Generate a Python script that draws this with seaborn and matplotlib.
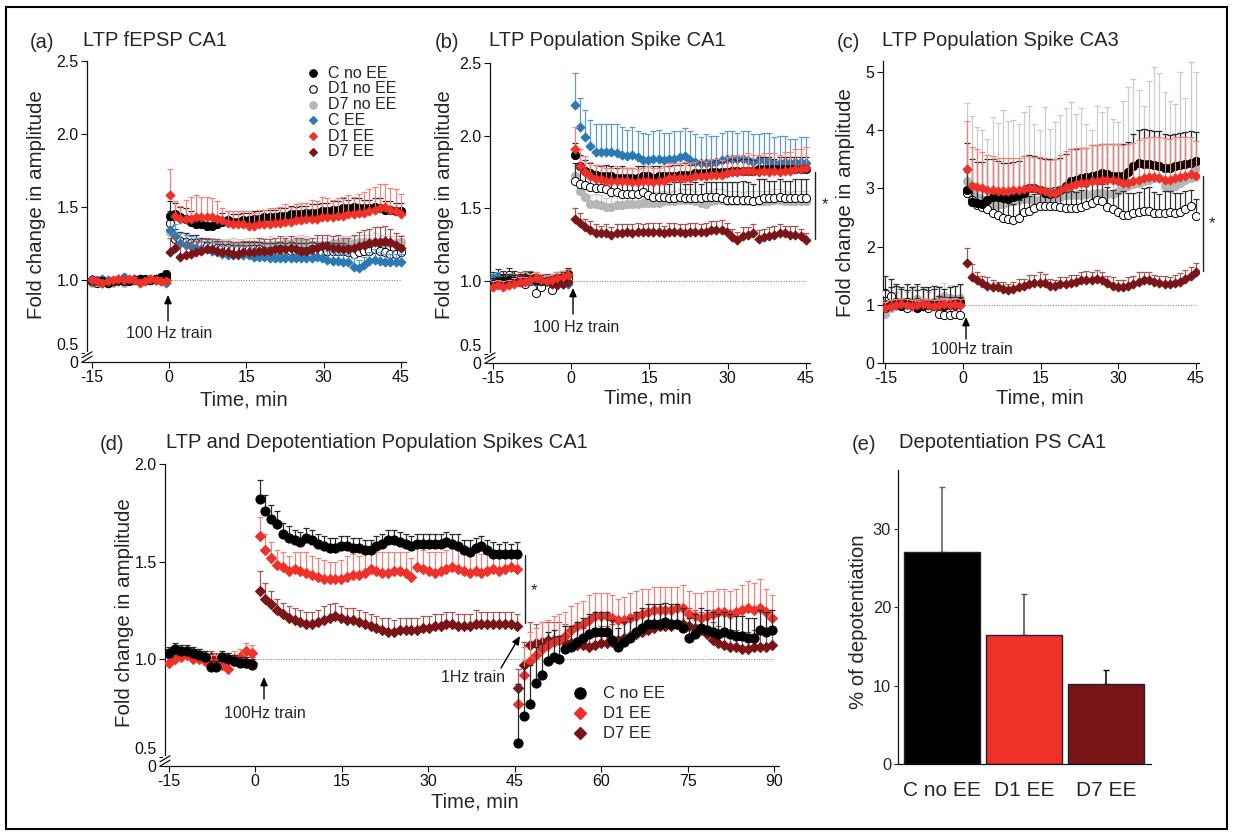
import numpy as np
import pandas as pd
import matplotlib
matplotlib.use("Agg")
import matplotlib.pyplot as plt
import seaborn as sns
from matplotlib.lines import Line2D
from matplotlib.patches import Rectangle

W, H = 1233, 835

# ---------------- data ----------------
GROUPS = ["C no EE", "D1 no EE", "D7 no EE", "C EE", "D1 EE", "D7 EE"]

# (a) LTP fEPSP CA1 : baseline (-15..0 min) and post-tetanus (0..45 min)
A_C_NOEE_PRE = [1.00, 0.99, 0.99, 0.98, 0.99, 1.00, 1.00, 0.99, 1.00, 1.01, 1.01, 1.00, 1.01, 1.02, 1.04]
A_D1_NOEE_PRE = [0.99, 0.98, 0.99, 0.98, 0.99, 1.00, 0.99, 1.00, 1.00, 0.99, 1.00, 1.00, 1.01, 1.00, 1.02]
A_D7_NOEE_PRE = [0.98, 0.98, 0.99, 0.99, 0.98, 0.99, 0.98, 0.99, 1.00, 1.00, 0.99, 1.01, 1.00, 1.01, 1.03]
A_C_EE_PRE = [1.01, 1.00, 1.01, 1.00, 0.99, 1.01, 1.02, 1.00, 1.00, 0.99, 1.00, 1.01, 1.00, 0.99, 0.98]
A_D1_EE_PRE = [1.00, 0.99, 0.98, 0.99, 1.00, 1.01, 1.00, 1.01, 1.00, 0.98, 0.99, 1.01, 1.00, 0.99, 0.99]
A_D7_EE_PRE = [0.99, 0.99, 0.98, 0.98, 0.99, 0.99, 1.00, 1.00, 1.01, 1.01, 1.00, 1.00, 1.01, 1.00, 1.00]
A_PRE_ERR = [0.02, 0.02, 0.02, 0.02, 0.02, 0.02]

A_C_NOEE = [1.44, 1.45, 1.43, 1.42, 1.40, 1.38, 1.38, 1.37, 1.37, 1.38,
            1.40, 1.41, 1.40, 1.40, 1.41, 1.41, 1.42, 1.42, 1.43, 1.43,
            1.43, 1.44, 1.44, 1.45, 1.45, 1.45, 1.46, 1.46, 1.46, 1.47,
            1.47, 1.48, 1.48, 1.49, 1.49, 1.50, 1.49, 1.49, 1.49, 1.50,
            1.49, 1.48, 1.48, 1.47, 1.47]
A_C_NOEE_ERR = [0.10, 0.08, 0.07, 0.07, 0.07, 0.06, 0.06, 0.06, 0.06, 0.06,
                0.06, 0.06, 0.05, 0.05, 0.05, 0.05, 0.05, 0.05, 0.05, 0.05,
                0.05, 0.05, 0.05, 0.06, 0.05, 0.06, 0.05, 0.06, 0.06, 0.06,
                0.06, 0.06, 0.06, 0.07, 0.06, 0.06, 0.07, 0.06, 0.06, 0.06,
                0.07, 0.06, 0.06, 0.06, 0.06]
A_D1_NOEE = [1.39, 1.28, 1.27, 1.26, 1.25, 1.25, 1.24, 1.23, 1.23, 1.22,
             1.22, 1.22, 1.21, 1.21, 1.21, 1.21, 1.21, 1.21, 1.20, 1.20,
             1.20, 1.21, 1.20, 1.20, 1.20, 1.20, 1.20, 1.21, 1.20, 1.19,
             1.20, 1.20, 1.20, 1.20, 1.19, 1.18, 1.19, 1.20, 1.20, 1.21,
             1.20, 1.19, 1.18, 1.18, 1.19]
A_D1_NOEE_ERR = [0.08, 0.07, 0.06, 0.06, 0.06, 0.06, 0.05, 0.05, 0.05, 0.05,
                 0.05, 0.05, 0.05, 0.05, 0.05, 0.05, 0.05, 0.05, 0.05, 0.05,
                 0.05, 0.05, 0.05, 0.06, 0.05, 0.05, 0.05, 0.05, 0.05, 0.05,
                 0.06, 0.05, 0.05, 0.05, 0.05, 0.05, 0.05, 0.05, 0.06, 0.05,
                 0.05, 0.05, 0.06, 0.05, 0.05]
A_D7_NOEE = [1.33, 1.28, 1.27, 1.26, 1.25, 1.24, 1.24, 1.24, 1.24, 1.23,
             1.23, 1.23, 1.23, 1.23, 1.23, 1.24, 1.24, 1.24, 1.24, 1.24,
             1.24, 1.24, 1.25, 1.25, 1.25, 1.25, 1.25, 1.24, 1.24, 1.24,
             1.24, 1.25, 1.25, 1.25, 1.25, 1.25, 1.26, 1.26, 1.26, 1.26,
             1.26, 1.25, 1.25, 1.25, 1.26]
A_D7_NOEE_ERR = [0.08, 0.07, 0.06, 0.06, 0.06, 0.05, 0.05, 0.05, 0.05, 0.05,
                 0.05, 0.05, 0.06, 0.05, 0.05, 0.05, 0.05, 0.05, 0.05, 0.06,
                 0.05, 0.05, 0.05, 0.05, 0.05, 0.06, 0.05, 0.05, 0.05, 0.05,
                 0.05, 0.05, 0.06, 0.05, 0.05, 0.05, 0.05, 0.05, 0.05, 0.06,
                 0.05, 0.05, 0.05, 0.05, 0.05]
A_C_EE = [1.34, 1.30, 1.25, 1.24, 1.23, 1.22, 1.21, 1.21, 1.20, 1.19,
          1.18, 1.17, 1.17, 1.17, 1.17, 1.17, 1.16, 1.16, 1.16, 1.15,
          1.15, 1.15, 1.15, 1.15, 1.15, 1.15, 1.15, 1.15, 1.16, 1.15,
          1.14, 1.13, 1.13, 1.12, 1.12, 1.09, 1.08, 1.10, 1.13, 1.14,
          1.13, 1.12, 1.12, 1.12, 1.12]
A_C_EE_ERR = [0.10, 0.08, 0.07, 0.07, 0.07, 0.07, 0.06, 0.06, 0.06, 0.06,
              0.05, 0.06, 0.06, 0.06, 0.06, 0.06, 0.06, 0.06, 0.06, 0.06,
              0.06, 0.06, 0.06, 0.06, 0.06, 0.06, 0.06, 0.06, 0.06, 0.06,
              0.06, 0.06, 0.06, 0.06, 0.06, 0.06, 0.06, 0.06, 0.06, 0.07,
              0.06, 0.06, 0.06, 0.06, 0.06]
A_D1_EE = [1.58, 1.44, 1.42, 1.42, 1.42, 1.43, 1.43, 1.43, 1.43, 1.42,
           1.41, 1.39, 1.38, 1.38, 1.38, 1.37, 1.37, 1.38, 1.38, 1.38,
           1.39, 1.39, 1.40, 1.40, 1.41, 1.41, 1.42, 1.42, 1.42, 1.43,
           1.43, 1.43, 1.44, 1.44, 1.45, 1.45, 1.46, 1.46, 1.47, 1.48,
           1.49, 1.50, 1.48, 1.47, 1.45]
A_D1_EE_ERR = [0.18, 0.10, 0.09, 0.13, 0.15, 0.15, 0.14, 0.14, 0.13, 0.12,
               0.08, 0.08, 0.09, 0.09, 0.09, 0.10, 0.09, 0.10, 0.10, 0.11,
               0.10, 0.11, 0.12, 0.10, 0.11, 0.12, 0.11, 0.13, 0.12, 0.14,
               0.13, 0.12, 0.12, 0.13, 0.13, 0.12, 0.13, 0.14, 0.15, 0.16,
               0.17, 0.16, 0.15, 0.15, 0.14]
A_D7_EE = [1.19, 1.22, 1.16, 1.17, 1.18, 1.19, 1.20, 1.21, 1.21, 1.20,
           1.19, 1.19, 1.18, 1.18, 1.19, 1.19, 1.19, 1.20, 1.20, 1.20,
           1.21, 1.21, 1.21, 1.22, 1.21, 1.20, 1.20, 1.21, 1.22, 1.23,
           1.23, 1.22, 1.22, 1.21, 1.21, 1.22, 1.23, 1.24, 1.25, 1.26,
           1.26, 1.27, 1.26, 1.24, 1.22]
A_D7_EE_ERR = [0.10, 0.09, 0.08, 0.08, 0.08, 0.08, 0.08, 0.08, 0.07, 0.08,
               0.08, 0.08, 0.08, 0.08, 0.08, 0.08, 0.08, 0.09, 0.08, 0.08,
               0.08, 0.09, 0.08, 0.08, 0.08, 0.09, 0.08, 0.08, 0.09, 0.08,
               0.08, 0.08, 0.09, 0.08, 0.08, 0.09, 0.10, 0.10, 0.10, 0.10,
               0.10, 0.10, 0.09, 0.08, 0.08]

# (b) LTP Population Spike CA1
B_C_NOEE_PRE = [0.98, 0.99, 1.00, 1.01, 1.00, 0.99, 1.01, 1.02, 1.01, 1.00, 1.00, 1.01, 1.02, 1.03, 1.05]
B_D1_NOEE_PRE = [1.01, 1.03, 1.02, 1.04, 1.02, 1.00, 0.98, 1.00, 0.92, 0.96, 1.00, 0.94, 0.99, 1.01, 1.02]
B_D7_NOEE_PRE = [0.99, 1.00, 0.99, 1.00, 1.01, 0.99, 0.99, 1.00, 1.00, 0.98, 0.99, 1.00, 1.01, 1.02, 1.03]
B_C_EE_PRE = [1.02, 1.03, 1.01, 1.02, 1.00, 1.01, 1.01, 1.00, 0.99, 1.00, 1.01, 1.00, 0.99, 0.98, 0.98]
B_D1_EE_PRE = [0.96, 0.97, 0.96, 0.97, 0.98, 0.99, 0.99, 1.01, 1.02, 1.01, 1.00, 1.01, 1.02, 1.03, 1.04]
B_D7_EE_PRE = [0.98, 0.99, 0.99, 1.00, 1.01, 1.02, 1.03, 1.03, 1.02, 1.01, 1.00, 0.98, 0.97, 0.98, 0.99]
B_PRE_ERR = [0.04, 0.05, 0.03, 0.03, 0.04, 0.04]

B_C_NOEE = [1.87, 1.79, 1.76, 1.74, 1.73, 1.72, 1.72, 1.72, 1.71, 1.71,
            1.71, 1.71, 1.71, 1.72, 1.72, 1.71, 1.72, 1.72, 1.72, 1.72,
            1.73, 1.73, 1.73, 1.74, 1.74, 1.74, 1.75, 1.75, 1.75, 1.75,
            1.76, 1.76, 1.76, 1.76, 1.76, 1.77, 1.77, 1.77, 1.77, 1.77,
            1.77, 1.77, 1.77, 1.77, 1.77]
B_C_NOEE_ERR = [0.08, 0.08, 0.07, 0.07, 0.07, 0.07, 0.08, 0.07, 0.07, 0.08,
                0.07, 0.07, 0.08, 0.07, 0.07, 0.08, 0.07, 0.07, 0.07, 0.08,
                0.07, 0.08, 0.07, 0.07, 0.08, 0.07, 0.07, 0.08, 0.07, 0.08,
                0.08, 0.07, 0.08, 0.08, 0.07, 0.08, 0.08, 0.08, 0.07, 0.08,
                0.08, 0.08, 0.08, 0.08, 0.08]
B_D1_NOEE = [1.69, 1.67, 1.66, 1.65, 1.64, 1.64, 1.63, 1.61, 1.61, 1.60,
             1.60, 1.60, 1.60, 1.61, 1.59, 1.58, 1.58, 1.58, 1.57, 1.57,
             1.58, 1.57, 1.57, 1.57, 1.57, 1.58, 1.58, 1.58, 1.57, 1.56,
             1.56, 1.56, 1.56, 1.56, 1.55, 1.56, 1.57, 1.57, 1.57, 1.58,
             1.57, 1.57, 1.57, 1.57, 1.57]
B_D1_NOEE_ERR = [0.12, 0.11, 0.10, 0.10, 0.10, 0.10, 0.10, 0.10, 0.10, 0.10,
                 0.10, 0.10, 0.10, 0.09, 0.10, 0.11, 0.10, 0.10, 0.10, 0.11,
                 0.10, 0.10, 0.10, 0.11, 0.10, 0.10, 0.10, 0.10, 0.11, 0.12,
                 0.12, 0.12, 0.13, 0.12, 0.12, 0.14, 0.13, 0.12, 0.12, 0.12,
                 0.12, 0.12, 0.13, 0.13, 0.13]
B_D7_NOEE = [1.72, 1.62, 1.58, 1.53, 1.53, 1.52, 1.51, 1.51, 1.52, 1.52,
             1.53, 1.53, 1.53, 1.54, 1.54, 1.54, 1.54, 1.55, 1.55, 1.55,
             1.56, 1.56, 1.56, 1.55, 1.54, 1.53, 1.55, 1.56, 1.56, 1.55,
             1.55, 1.55, 1.55, 1.55, 1.55, 1.55, 1.55, 1.55, 1.56, 1.56,
             1.55, 1.55, 1.55, 1.55, 1.55]
B_D7_NOEE_ERR = [0.07, 0.07, 0.06, 0.06, 0.07, 0.07, 0.06, 0.07, 0.07, 0.06,
                 0.07, 0.07, 0.07, 0.06, 0.07, 0.07, 0.07, 0.07, 0.06, 0.07,
                 0.07, 0.07, 0.07, 0.07, 0.06, 0.07, 0.07, 0.07, 0.07, 0.07,
                 0.07, 0.07, 0.06, 0.07, 0.07, 0.07, 0.07, 0.07, 0.07, 0.07,
                 0.07, 0.06, 0.07, 0.07, 0.07]
B_C_EE = [2.21, 2.06, 1.99, 1.93, 1.89, 1.89, 1.89, 1.89, 1.88, 1.87,
          1.86, 1.87, 1.85, 1.83, 1.83, 1.84, 1.84, 1.83, 1.84, 1.84,
          1.85, 1.86, 1.83, 1.82, 1.81, 1.81, 1.81, 1.82, 1.83, 1.84,
          1.84, 1.84, 1.84, 1.83, 1.82, 1.83, 1.83, 1.82, 1.81, 1.81,
          1.82, 1.81, 1.82, 1.82, 1.81]
B_C_EE_ERR = [0.22, 0.20, 0.19, 0.18, 0.19, 0.19, 0.19, 0.19, 0.20, 0.19,
              0.18, 0.19, 0.18, 0.19, 0.18, 0.19, 0.20, 0.19, 0.18, 0.19,
              0.18, 0.19, 0.20, 0.19, 0.18, 0.20, 0.19, 0.18, 0.19, 0.19,
              0.19, 0.18, 0.19, 0.20, 0.19, 0.18, 0.19, 0.20, 0.18, 0.19,
              0.18, 0.17, 0.16, 0.17, 0.18]
B_D1_EE = [1.91, 1.79, 1.75, 1.72, 1.70, 1.70, 1.69, 1.69, 1.69, 1.69,
           1.69, 1.68, 1.68, 1.69, 1.69, 1.68, 1.69, 1.69, 1.71, 1.71,
           1.71, 1.71, 1.71, 1.72, 1.72, 1.72, 1.73, 1.73, 1.73, 1.74,
           1.75, 1.75, 1.76, 1.76, 1.76, 1.75, 1.76, 1.75, 1.76, 1.75,
           1.76, 1.76, 1.77, 1.77, 1.78]
B_D1_EE_ERR = [0.15, 0.12, 0.11, 0.10, 0.10, 0.10, 0.09, 0.09, 0.10, 0.09,
               0.09, 0.10, 0.09, 0.09, 0.10, 0.10, 0.09, 0.10, 0.10, 0.10,
               0.10, 0.11, 0.10, 0.10, 0.11, 0.10, 0.11, 0.11, 0.10, 0.11,
               0.11, 0.12, 0.11, 0.12, 0.11, 0.12, 0.12, 0.13, 0.12, 0.12,
               0.13, 0.13, 0.14, 0.14, 0.14]
B_D7_EE = [1.43, 1.40, 1.37, 1.35, 1.33, 1.33, 1.33, 1.32, 1.33, 1.33,
           1.34, 1.33, 1.34, 1.34, 1.34, 1.34, 1.34, 1.33, 1.34, 1.34,
           1.34, 1.33, 1.34, 1.34, 1.34, 1.34, 1.35, 1.35, 1.35, 1.34,
           1.30, 1.28, 1.31, 1.32, 1.33, 1.29, 1.30, 1.31, 1.32, 1.33,
           1.33, 1.32, 1.32, 1.31, 1.28]
B_D7_EE_ERR = [0.07, 0.07, 0.06, 0.06, 0.06, 0.05, 0.06, 0.05, 0.06, 0.06,
               0.05, 0.06, 0.06, 0.05, 0.06, 0.06, 0.06, 0.05, 0.06, 0.06,
               0.05, 0.06, 0.06, 0.06, 0.05, 0.06, 0.06, 0.06, 0.07, 0.06,
               0.06, 0.06, 0.06, 0.05, 0.06, 0.06, 0.06, 0.06, 0.06, 0.06,
               0.05, 0.06, 0.06, 0.05, 0.05]

# (c) LTP Population Spike CA3 (no C EE group)
C_C_NOEE_PRE = [0.95, 1.00, 1.02, 0.98, 1.05, 1.00, 0.95, 0.98, 1.00, 1.02, 1.00, 0.98, 1.00, 1.02, 1.05]
C_D1_NOEE_PRE = [1.20, 1.15, 1.05, 1.00, 0.95, 1.00, 1.05, 1.00, 0.95, 0.98, 0.85, 0.83, 0.83, 0.84, 0.83]
C_D7_NOEE_PRE = [0.85, 0.95, 1.00, 1.05, 1.00, 1.05, 1.10, 1.05, 1.00, 1.05, 1.10, 1.15, 1.12, 1.10, 1.12]
C_D1_EE_PRE = [0.95, 0.98, 1.00, 1.02, 1.00, 0.98, 1.00, 1.02, 1.00, 0.98, 1.00, 1.02, 1.00, 1.02, 1.00]
C_D7_EE_PRE = [1.00, 0.98, 1.00, 1.02, 1.03, 1.00, 1.00, 0.98, 1.00, 1.02, 1.00, 0.98, 1.00, 0.98, 1.00]
C_PRE_ERR = [0.30, 0.30, 0.22, 0.0, 0.10, 0.08]

C_C_NOEE = [2.98, 2.76, 2.75, 2.74, 2.80, 2.85, 2.86, 2.84, 2.82, 2.85,
            2.88, 2.93, 3.00, 3.01, 2.98, 2.92, 2.90, 2.92, 2.98, 3.05,
            3.12, 3.15, 3.18, 3.20, 3.22, 3.23, 3.26, 3.25, 3.22, 3.22,
            3.21, 3.28, 3.38, 3.43, 3.42, 3.42, 3.40, 3.38, 3.35, 3.35,
            3.38, 3.40, 3.42, 3.44, 3.47]
C_C_NOEE_ERR = [0.80, 0.75, 0.70, 0.72, 0.70, 0.65, 0.62, 0.60, 0.62, 0.60,
                0.60, 0.62, 0.58, 0.55, 0.55, 0.58, 0.60, 0.58, 0.55, 0.55,
                0.55, 0.52, 0.52, 0.50, 0.52, 0.52, 0.50, 0.52, 0.55, 0.55,
                0.55, 0.52, 0.55, 0.58, 0.60, 0.58, 0.58, 0.60, 0.58, 0.57,
                0.56, 0.55, 0.55, 0.54, 0.50]
C_D1_NOEE = [2.93, 2.80, 2.72, 2.68, 2.65, 2.58, 2.55, 2.50, 2.47, 2.45,
             2.50, 2.60, 2.62, 2.66, 2.70, 2.70, 2.70, 2.70, 2.68, 2.66,
             2.66, 2.66, 2.68, 2.72, 2.75, 2.80, 2.78, 2.68, 2.64, 2.60,
             2.55, 2.55, 2.57, 2.60, 2.62, 2.62, 2.58, 2.57, 2.58, 2.60,
             2.58, 2.60, 2.65, 2.70, 2.52]
C_D1_NOEE_ERR = [0.35, 0.30, 0.28, 0.30, 0.32, 0.35, 0.32, 0.35, 0.30, 0.28,
                 0.30, 0.32, 0.25, 0.25, 0.28, 0.30, 0.30, 0.32, 0.30, 0.28,
                 0.30, 0.28, 0.30, 0.32, 0.34, 0.32, 0.30, 0.35, 0.33, 0.32,
                 0.40, 0.38, 0.35, 0.34, 0.38, 0.40, 0.36, 0.34, 0.38, 0.36,
                 0.35, 0.32, 0.30, 0.28, 0.30]
C_D7_NOEE = [3.12, 2.95, 2.85, 2.80, 2.75, 2.72, 2.72, 2.74, 2.76, 2.78,
             2.80, 2.82, 2.82, 2.80, 2.80, 2.80, 2.82, 2.84, 2.86, 2.88,
             2.88, 2.88, 2.88, 2.90, 2.90, 2.92, 2.92, 2.90, 2.90, 2.95,
             3.00, 3.05, 3.08, 3.10, 3.12, 3.15, 3.18, 3.18, 3.05, 3.00,
             3.05, 3.10, 3.15, 3.18, 3.35]
C_D7_NOEE_ERR = [1.35, 1.30, 1.20, 1.20, 1.10, 1.50, 1.40, 1.60, 1.40, 1.40,
                 1.30, 1.50, 1.60, 1.30, 1.20, 1.60, 1.20, 1.30, 1.40, 1.50,
                 1.60, 1.40, 1.50, 1.20, 1.10, 1.50, 1.40, 1.50, 1.30, 1.20,
                 1.50, 1.70, 1.80, 1.60, 1.30, 1.70, 1.90, 1.80, 1.60, 1.50,
                 1.40, 1.90, 1.40, 2.00, 1.65]
C_D1_EE = [3.33, 3.05, 3.02, 3.00, 2.98, 2.97, 2.96, 2.95, 2.96, 2.97,
           2.98, 2.99, 3.00, 3.00, 2.98, 2.95, 2.92, 2.93, 2.98, 3.02,
           3.05, 3.08, 3.10, 3.10, 3.12, 3.12, 3.14, 3.15, 3.14, 3.12,
           3.10, 3.10, 3.12, 3.15, 3.18, 3.20, 3.20, 3.18, 3.15, 3.15,
           3.18, 3.20, 3.22, 3.24, 3.22]
C_D1_EE_ERR = [0.83, 0.66, 0.65, 0.62, 0.60, 0.58, 0.57, 0.58, 0.56, 0.56,
               0.55, 0.56, 0.55, 0.54, 0.56, 0.58, 0.57, 0.58, 0.60, 0.62,
               0.62, 0.62, 0.60, 0.60, 0.62, 0.62, 0.62, 0.62, 0.62, 0.64,
               0.65, 0.66, 0.66, 0.68, 0.68, 0.68, 0.68, 0.70, 0.72, 0.70,
               0.70, 0.68, 0.66, 0.64, 0.60]
C_D7_EE = [1.72, 1.48, 1.42, 1.38, 1.33, 1.30, 1.30, 1.28, 1.25, 1.27,
           1.30, 1.33, 1.35, 1.37, 1.38, 1.37, 1.33, 1.33, 1.35, 1.35,
           1.38, 1.40, 1.42, 1.43, 1.43, 1.45, 1.42, 1.38, 1.33, 1.30,
           1.30, 1.33, 1.36, 1.40, 1.42, 1.42, 1.40, 1.37, 1.35, 1.35,
           1.37, 1.40, 1.45, 1.50, 1.57]
C_D7_EE_ERR = [0.25, 0.22, 0.15, 0.12, 0.14, 0.12, 0.10, 0.12, 0.11, 0.12,
               0.14, 0.12, 0.16, 0.14, 0.18, 0.16, 0.12, 0.10, 0.12, 0.13,
               0.14, 0.12, 0.14, 0.15, 0.14, 0.15, 0.14, 0.12, 0.14, 0.12,
               0.12, 0.15, 0.14, 0.16, 0.15, 0.14, 0.12, 0.13, 0.14, 0.12,
               0.14, 0.15, 0.14, 0.15, 0.15]

# (d) LTP and depotentiation: baseline, after 100 Hz (0-45), after 1 Hz (45-90)
D_GROUPS = ["C no EE", "D1 EE", "D7 EE"]
D_C_NOEE_PRE = [1.03, 1.05, 1.04, 1.04, 1.03, 1.02, 1.01, 0.96, 0.96, 1.01, 1.00, 0.99, 0.98, 0.98, 0.97]
D_D1_EE_PRE = [0.98, 1.00, 1.01, 1.02, 1.00, 1.00, 0.99, 0.98, 0.98, 0.97, 0.95, 1.00, 1.01, 1.04, 1.03]
D_D7_EE_PRE = [1.02, 1.03, 1.02, 1.03, 1.02, 1.02, 1.01, 1.01, 1.00, 1.00, 1.00, 0.99, 0.99, 0.98, 0.98]
D_PRE_ERR = [0.03, 0.04, 0.03]

D_C_NOEE_LTP = [1.82, 1.76, 1.72, 1.69, 1.64, 1.62, 1.61, 1.60, 1.62, 1.61,
                1.59, 1.58, 1.57, 1.57, 1.58, 1.58, 1.57, 1.57, 1.56, 1.56,
                1.58, 1.59, 1.61, 1.61, 1.60, 1.59, 1.58, 1.59, 1.59, 1.59,
                1.59, 1.59, 1.60, 1.59, 1.58, 1.56, 1.55, 1.57, 1.58, 1.56,
                1.54, 1.54, 1.54, 1.54, 1.54]
D_C_NOEE_LTP_ERR = [0.10, 0.08, 0.07, 0.07, 0.06, 0.06, 0.05, 0.05, 0.05, 0.05,
                    0.05, 0.05, 0.05, 0.05, 0.05, 0.05, 0.05, 0.05, 0.05, 0.05,
                    0.05, 0.05, 0.05, 0.05, 0.05, 0.05, 0.05, 0.05, 0.05, 0.05,
                    0.05, 0.05, 0.05, 0.05, 0.06, 0.05, 0.06, 0.05, 0.05, 0.05,
                    0.06, 0.05, 0.06, 0.05, 0.06]
D_D1_EE_LTP = [1.63, 1.56, 1.52, 1.48, 1.47, 1.45, 1.46, 1.45, 1.44, 1.43,
               1.42, 1.41, 1.41, 1.41, 1.41, 1.42, 1.43, 1.43, 1.44, 1.46,
               1.45, 1.44, 1.44, 1.45, 1.45, 1.44, 1.42, 1.47, 1.46, 1.45,
               1.44, 1.45, 1.46, 1.47, 1.46, 1.45, 1.44, 1.45, 1.44, 1.45,
               1.46, 1.45, 1.46, 1.47, 1.46]
D_D1_EE_LTP_ERR = [0.10, 0.08, 0.08, 0.08, 0.08, 0.08, 0.09, 0.10, 0.11, 0.10,
                   0.10, 0.10, 0.09, 0.09, 0.10, 0.11, 0.11, 0.10, 0.10, 0.10,
                   0.10, 0.11, 0.11, 0.10, 0.10, 0.11, 0.10, 0.12, 0.10, 0.10,
                   0.11, 0.10, 0.10, 0.10, 0.11, 0.10, 0.11, 0.11, 0.10, 0.10,
                   0.10, 0.10, 0.09, 0.09, 0.10]
D_D7_EE_LTP = [1.35, 1.31, 1.28, 1.25, 1.23, 1.21, 1.20, 1.19, 1.18, 1.18,
               1.19, 1.20, 1.21, 1.22, 1.21, 1.20, 1.20, 1.19, 1.18, 1.17,
               1.16, 1.15, 1.14, 1.14, 1.15, 1.15, 1.15, 1.15, 1.16, 1.16,
               1.17, 1.17, 1.18, 1.18, 1.17, 1.17, 1.17, 1.18, 1.18, 1.18,
               1.18, 1.18, 1.18, 1.18, 1.17]
D_D7_EE_LTP_ERR = [0.10, 0.08, 0.07, 0.06, 0.06, 0.06, 0.06, 0.06, 0.06, 0.06,
                   0.06, 0.07, 0.07, 0.07, 0.06, 0.06, 0.06, 0.06, 0.06, 0.06,
                   0.06, 0.06, 0.07, 0.06, 0.06, 0.06, 0.06, 0.06, 0.06, 0.06,
                   0.06, 0.06, 0.06, 0.06, 0.06, 0.06, 0.06, 0.07, 0.06, 0.06,
                   0.06, 0.06, 0.06, 0.06, 0.06]
D_C_NOEE_DEP = [0.57, 0.71, 0.77, 0.88, 0.92, 0.99, 1.01, 1.00, 1.05, 1.06,
                1.09, 1.11, 1.13, 1.14, 1.14, 1.14, 1.10, 1.06, 1.09, 1.11,
                1.14, 1.16, 1.18, 1.18, 1.18, 1.19, 1.18, 1.18, 1.16, 1.11,
                1.13, 1.16, 1.15, 1.14, 1.13, 1.14, 1.13, 1.12, 1.12, 1.11,
                1.11, 1.15, 1.14, 1.15]
D_C_NOEE_DEP_ERR = [0.30, 0.25, 0.20, 0.18, 0.16, 0.15, 0.14, 0.12, 0.12, 0.11,
                    0.10, 0.10, 0.10, 0.10, 0.10, 0.10, 0.10, 0.10, 0.10, 0.10,
                    0.10, 0.10, 0.10, 0.10, 0.10, 0.10, 0.10, 0.10, 0.10, 0.10,
                    0.10, 0.10, 0.10, 0.10, 0.10, 0.10, 0.10, 0.10, 0.10, 0.10,
                    0.10, 0.10, 0.10, 0.10]
D_D1_EE_DEP = [0.77, 0.92, 0.99, 1.02, 1.05, 1.07, 1.09, 1.10, 1.12, 1.15,
               1.17, 1.18, 1.20, 1.22, 1.22, 1.22, 1.21, 1.20, 1.20, 1.21,
               1.22, 1.23, 1.24, 1.25, 1.25, 1.25, 1.25, 1.26, 1.26, 1.23,
               1.22, 1.21, 1.22, 1.23, 1.24, 1.24, 1.23, 1.24, 1.25, 1.26,
               1.25, 1.26, 1.24, 1.21]
D_D1_EE_DEP_ERR = [0.10, 0.14, 0.15, 0.14, 0.14, 0.13, 0.13, 0.13, 0.12, 0.12,
                   0.12, 0.12, 0.13, 0.12, 0.12, 0.12, 0.12, 0.11, 0.12, 0.13,
                   0.13, 0.13, 0.12, 0.12, 0.12, 0.12, 0.12, 0.11, 0.12, 0.12,
                   0.12, 0.13, 0.13, 0.12, 0.12, 0.12, 0.12, 0.12, 0.13, 0.14,
                   0.14, 0.15, 0.12, 0.12]
D_D7_EE_DEP = [0.85, 0.97, 1.07, 1.08, 1.09, 1.10, 1.10, 1.10, 1.09, 1.08,
               1.07, 1.07, 1.06, 1.07, 1.08, 1.08, 1.09, 1.10, 1.11, 1.12,
               1.13, 1.14, 1.15, 1.16, 1.17, 1.17, 1.17, 1.18, 1.18, 1.17,
               1.16, 1.15, 1.13, 1.10, 1.08, 1.07, 1.06, 1.06, 1.05, 1.05,
               1.06, 1.06, 1.06, 1.07]
D_D7_EE_DEP_ERR = [0.10, 0.12, 0.12, 0.10, 0.10, 0.09, 0.09, 0.09, 0.09, 0.09,
                   0.09, 0.09, 0.09, 0.09, 0.09, 0.09, 0.09, 0.09, 0.09, 0.09,
                   0.09, 0.09, 0.09, 0.09, 0.09, 0.09, 0.09, 0.09, 0.09, 0.09,
                   0.09, 0.09, 0.09, 0.09, 0.09, 0.09, 0.09, 0.09, 0.09, 0.09,
                   0.09, 0.09, 0.09, 0.09]

# (e) Depotentiation PS CA1
E_GROUPS = ["C no EE", "D1 EE", "D7 EE"]
E_MEAN = [27.0, 16.5, 10.2]
E_SEM = [8.3, 5.2, 1.8]

# ---------------- styles ----------------
STYLE = {
    "C no EE": dict(marker="o", face="#000000", edge="#000000", ecolor="#2b2b2b"),
    "D1 no EE": dict(marker="o", face="#ffffff", edge="#000000", ecolor="#333333"),
    "D7 no EE": dict(marker="o", face="#b4b6b9", edge="#b4b6b9", ecolor="#cbcccd"),
    "C EE": dict(marker="D", face="#2a79b5", edge="#2a79b5", ecolor="#5d9ccd"),
    "D1 EE": dict(marker="D", face="#ee3129", edge="#ee3129", ecolor="#f1827d"),
    "D7 EE": dict(marker="D", face="#7a1417", edge="#7a1417", ecolor="#a3585c"),
}
DRAW_ORDER = ["D7 no EE", "D1 no EE", "C EE", "D7 EE", "C no EE", "D1 EE"]
E_COLORS = ["#000000", "#ee3129", "#7a1417"]
E_ERRCOL = ["#666666", "#555555", "#111111"]

sns.set_theme(style="ticks")
plt.rcParams["font.family"] = ["Liberation Sans", "DejaVu Sans"]
plt.rcParams["axes.unicode_minus"] = False
plt.rcParams["axes.edgecolor"] = "#111111"

fig = plt.figure(figsize=(W / 100, H / 100), dpi=100)


def fpos(x, y):
    return x / W, 1 - y / H


def make_axes(l, t, r, b):
    return fig.add_axes([l / W, 1 - b / H, (r - l) / W, (b - t) / H])


def ptext(x, y, s, size=11.5, ha="left", va="center", **kw):
    fx, fy = fpos(x, y)
    fig.text(fx, fy, s, fontsize=size, ha=ha, va=va, **kw)


def pline(xs, ys, **kw):
    fig.add_artist(Line2D([x / W for x in xs], [1 - y / H for y in ys],
                          transform=fig.transFigure, **kw))


def parrow(x0, y0, x1, y1):
    fig.add_artist(matplotlib.patches.FancyArrowPatch(
        fpos(x0, y0), fpos(x1, y1), transform=fig.transFigure,
        arrowstyle="-|>,head_length=5,head_width=2.2", lw=1.0, color="black",
        shrinkA=0, shrinkB=0))


def break_marks(x, y):
    pline([x, x], [y - 3, y + 3], color="white", lw=3, zorder=10)
    for dy in (-2.2, 2.2):
        pline([x - 5, x + 5], [y + dy + 3, y + dy - 3], color="#111111", lw=0.9, zorder=11)


def series(ax, t, y, e, grp, ms, z):
    st = STYLE[grp]
    df = pd.DataFrame({"time": t, "fold": y, "err": e})
    ax.errorbar(df["time"], df["fold"], yerr=[np.zeros(len(df)), df["err"]],
                fmt="none", ecolor=st["ecolor"], elinewidth=0.9,
                capsize=2.3, capthick=0.9, zorder=z)
    sns.scatterplot(data=df, x="time", y="fold", ax=ax, marker=st["marker"],
                    s=ms ** 2, color=st["face"], edgecolor=st["edge"],
                    linewidth=0.7, zorder=z + 0.5, legend=False)


def style_axis(ax, xlim, ylim, xticks, yticks, ylabels, broken=False):
    ax.set_xlim(*xlim)
    ax.set_ylim(*ylim)
    ax.set_xticks(xticks)
    ax.set_xticklabels([str(v) for v in xticks])
    ax.set_yticks(yticks)
    ax.set_yticklabels(ylabels)
    sns.despine(ax=ax)
    for s in ("left", "bottom"):
        ax.spines[s].set_linewidth(0.9)
    ax.tick_params(direction="out", length=4, width=0.8, labelsize=11.5,
                   pad=2, colors="#111111")
    if broken:
        # the "0.5" label sits just above its tick so it clears the "0" below
        ax.get_yticklabels()[1].set_va("bottom")
    ax.set_xlabel("")
    ax.set_ylabel("")
    ax.patch.set_alpha(0)


def panel_timecourse(ax, data, start, ms_c, ms_d):
    z = 2
    for grp in DRAW_ORDER:
        if grp not in data:
            continue
        pre, pre_err, post, post_err = data[grp]
        t_pre = np.linspace(-15, -0.5, len(pre))
        t_post = np.linspace(start, 45, len(post))
        ms = ms_c if STYLE[grp]["marker"] == "o" else ms_d
        series(ax, np.concatenate([t_pre, t_post]), pre + post,
               [pre_err] * len(pre) + post_err, grp, ms, z)
        z += 1
    ax.hlines(1.0, 0, 45, colors="#8a8a8a", linestyles=(0, (1, 1.3)), lw=0.8, zorder=1)


# ---- panel (a)
A_DATA = {g: (pre, pe, post, err) for g, pre, pe, post, err in zip(
    GROUPS,
    [A_C_NOEE_PRE, A_D1_NOEE_PRE, A_D7_NOEE_PRE, A_C_EE_PRE, A_D1_EE_PRE, A_D7_EE_PRE],
    A_PRE_ERR,
    [A_C_NOEE, A_D1_NOEE, A_D7_NOEE, A_C_EE, A_D1_EE, A_D7_EE],
    [A_C_NOEE_ERR, A_D1_NOEE_ERR, A_D7_NOEE_ERR, A_C_EE_ERR, A_D1_EE_ERR, A_D7_EE_ERR])}
axA = make_axes(87, 61, 406, 362)
panel_timecourse(axA, A_DATA, 0.2, 5.9, 4.6)
style_axis(axA, (-15.9, 46.0), (0.438, 2.5), [-15, 0, 15, 30, 45],
           [0.438, 0.5, 1.0, 1.5, 2.0, 2.5], ["0", "0.5", "1.0", "1.5", "2.0", "2.5"], broken=True)
break_marks(87, 357)

# ---- panel (b)
B_DATA = {g: (pre, pe, post, err) for g, pre, pe, post, err in zip(
    GROUPS,
    [B_C_NOEE_PRE, B_D1_NOEE_PRE, B_D7_NOEE_PRE, B_C_EE_PRE, B_D1_EE_PRE, B_D7_EE_PRE],
    B_PRE_ERR,
    [B_C_NOEE, B_D1_NOEE, B_D7_NOEE, B_C_EE, B_D1_EE, B_D7_EE],
    [B_C_NOEE_ERR, B_D1_NOEE_ERR, B_D7_NOEE_ERR, B_C_EE_ERR, B_D1_EE_ERR, B_D7_EE_ERR])}
axB = make_axes(490, 63, 810, 363)
panel_timecourse(axB, B_DATA, 0.7, 5.9, 4.6)
style_axis(axB, (-15.5, 45.8), (0.436, 2.5), [-15, 0, 15, 30, 45],
           [0.436, 0.5, 1.0, 1.5, 2.0, 2.5], ["0", "0.5", "1.0", "1.5", "2.0", "2.5"], broken=True)
break_marks(490, 358)

# ---- panel (c)
C_DATA = {g: (pre, pe, post, err) for g, pre, pe, post, err in zip(
    ["C no EE", "D1 no EE", "D7 no EE", "D1 EE", "D7 EE"],
    [C_C_NOEE_PRE, C_D1_NOEE_PRE, C_D7_NOEE_PRE, C_D1_EE_PRE, C_D7_EE_PRE],
    [C_PRE_ERR[0], C_PRE_ERR[1], C_PRE_ERR[2], C_PRE_ERR[4], C_PRE_ERR[5]],
    [C_C_NOEE, C_D1_NOEE, C_D7_NOEE, C_D1_EE, C_D7_EE],
    [C_C_NOEE_ERR, C_D1_NOEE_ERR, C_D7_NOEE_ERR, C_D1_EE_ERR, C_D7_EE_ERR])}
axC = make_axes(883, 61, 1199, 363)
panel_timecourse(axC, C_DATA, 0.7, 5.9, 4.6)
style_axis(axC, (-15.45, 45.6), (0, 5.19), [-15, 0, 15, 30, 45],
           [0, 1, 2, 3, 4, 5], ["0", "1", "2", "3", "4", "5"])

# ---- panel (d)
axD = make_axes(165, 464, 779, 766)
D_SETS = {
    "C no EE": (D_C_NOEE_PRE, D_C_NOEE_LTP, D_C_NOEE_LTP_ERR, D_C_NOEE_DEP, D_C_NOEE_DEP_ERR),
    "D1 EE": (D_D1_EE_PRE, D_D1_EE_LTP, D_D1_EE_LTP_ERR, D_D1_EE_DEP, D_D1_EE_DEP_ERR),
    "D7 EE": (D_D7_EE_PRE, D_D7_EE_LTP, D_D7_EE_LTP_ERR, D_D7_EE_DEP, D_D7_EE_DEP_ERR),
}
for i, grp in enumerate(["D7 EE", "D1 EE", "C no EE"]):
    pre, ltp, ltp_e, dep, dep_e = D_SETS[grp]
    t = np.concatenate([np.linspace(-15, -0.5, len(pre)),
                        np.linspace(0.75, 45.3, len(ltp)),
                        np.linspace(45.6, 89.5, len(dep))])
    pe = D_PRE_ERR[D_GROUPS.index(grp)]
    ms = 6.6 if STYLE[grp]["marker"] == "o" else 5.2
    series(axD, t, pre + ltp + dep, [pe] * len(pre) + ltp_e + dep_e, grp, ms, 2 + i)
axD.hlines(1.0, 0, 90, colors="#8a8a8a", linestyles=(0, (1, 1.3)), lw=0.8, zorder=1)
style_axis(axD, (-15.64, 90.8), (0.452, 2.0), [-15, 0, 15, 30, 45, 60, 75, 90],
           [0.452, 0.5, 1.0, 1.5, 2.0], ["0", "0.5", "1.0", "1.5", "2.0"], broken=True)
break_marks(165, 761)

# ---- panel (e)
axE = make_axes(898, 470, 1151, 764)
e_df = pd.DataFrame({"group": E_GROUPS, "pct": E_MEAN, "sem": E_SEM})
sns.barplot(data=e_df, x="group", y="pct", hue="group", palette=E_COLORS,
            saturation=1, width=0.93, edgecolor="#22222e", linewidth=1.0,
            errorbar=None, legend=False, ax=axE, zorder=2)
for i, row in e_df.iterrows():
    axE.errorbar(i, row["pct"], yerr=[[0], [row["sem"]]], fmt="none",
                 ecolor=E_ERRCOL[i], elinewidth=1.2, capsize=2.5, capthick=1.0, zorder=1)
axE.set_xlim(-0.54, 2.55)
axE.set_ylim(0, 37.5)
axE.set_yticks([0, 10, 20, 30])
sns.despine(ax=axE)
for s in ("left", "bottom"):
    axE.spines[s].set_linewidth(0.9)
axE.tick_params(axis="y", direction="out", length=3, width=0.8, labelsize=11.8, pad=2)
axE.tick_params(axis="x", length=0, labelsize=15, pad=12)
axE.set_xlabel("")
axE.set_ylabel("")
axE.patch.set_alpha(0)

# ---- axis labels
for ax, (xx, xy), (yx, yy), (l, t, r, b) in [
        (axA, (244, 400), (36, 205), (87, 61, 406, 362)),
        (axB, (648, 398), (445, 205), (490, 63, 810, 363)),
        (axC, (1040, 398), (845, 203), (883, 61, 1199, 363)),
        (axD, (475, 802), (124, 613), (165, 464, 779, 766))]:
    ax.set_xlabel("Time, min", fontsize=14.5, va="center")
    ax.xaxis.set_label_coords((xx - l) / (r - l), (b - xy) / (b - t))
    ax.set_ylabel("Fold change in amplitude", fontsize=14.8, va="center")
    ax.yaxis.set_label_coords((yx - l) / (r - l), (b - yy) / (b - t))
axE.set_ylabel("% of depotentiation", fontsize=14.7, va="center")
axE.yaxis.set_label_coords((858 - 898) / (1151 - 898), (764 - 622) / (764 - 470))

# ---- titles
for lab, lx, title, tx, ty in [("(a)", 30, "LTP fEPSP CA1", 83, 41),
                                ("(b)", 435, "LTP Population Spike CA1", 489, 41),
                                ("(c)", 837, "LTP Population Spike CA3", 882, 41),
                                ("(d)", 100, "LTP and Depotentiation Population Spikes CA1", 166, 443),
                                ("(e)", 852, "Depotentiation PS CA1", 899, 443)]:
    ptext(lx, ty + 2, lab, size=14.5)
    ptext(tx, ty, title, size=14.5)

# ---- legend (a)
for i, grp in enumerate(GROUPS):
    y = 73 + i * 15.8
    st = STYLE[grp]
    fx, fy = fpos(313, y)
    fig.add_artist(Line2D([fx], [fy], marker=st["marker"], markersize=5.4 if st["marker"] == "o" else 4.4,
                          markerfacecolor=st["face"], markeredgecolor=st["edge"],
                          markeredgewidth=0.8, linestyle="none", transform=fig.transFigure))
    ptext(328, y, grp, size=11.5)

# ---- legend (d)
for i, grp in enumerate(D_GROUPS):
    y = 693 + i * 20
    st = STYLE[grp]
    fx, fy = fpos(580, y)
    fig.add_artist(Line2D([fx], [fy], marker=st["marker"], markersize=8 if st["marker"] == "o" else 6.3,
                          markerfacecolor=st["face"], markeredgecolor=st["edge"],
                          linestyle="none", transform=fig.transFigure))
    ptext(603, y, grp, size=12)

# ---- annotations
ptext(169, 333, "100 Hz train", ha="center")
parrow(168, 321, 168, 295)
ptext(576, 327, "100 Hz train", ha="center")
parrow(573, 314, 573, 288)
ptext(972, 350, "100Hz train", ha="center")
parrow(966, 339, 966, 317)
ptext(265, 713, "100Hz train", ha="center")
parrow(264, 699, 264, 677)
ptext(473, 678, "1Hz train", ha="center")
parrow(501, 668, 520, 636)

pline([815, 815], [172, 239], color="#222222", lw=1.0)
ptext(822, 205, "*", size=12)
pline([1203, 1203], [176, 271], color="#222222", lw=1.0)
ptext(1209, 224, "*", size=12)
pline([525, 525], [555, 623], color="#222222", lw=1.0)
ptext(531, 591, "*", size=12)

# ---- frame
fig.add_artist(Rectangle((6 / W, 1 - 829 / H), 1221 / W, 822 / H, fill=False,
                         lw=1.5, edgecolor="black", transform=fig.transFigure))

fig.savefig("out.png", dpi=100)
